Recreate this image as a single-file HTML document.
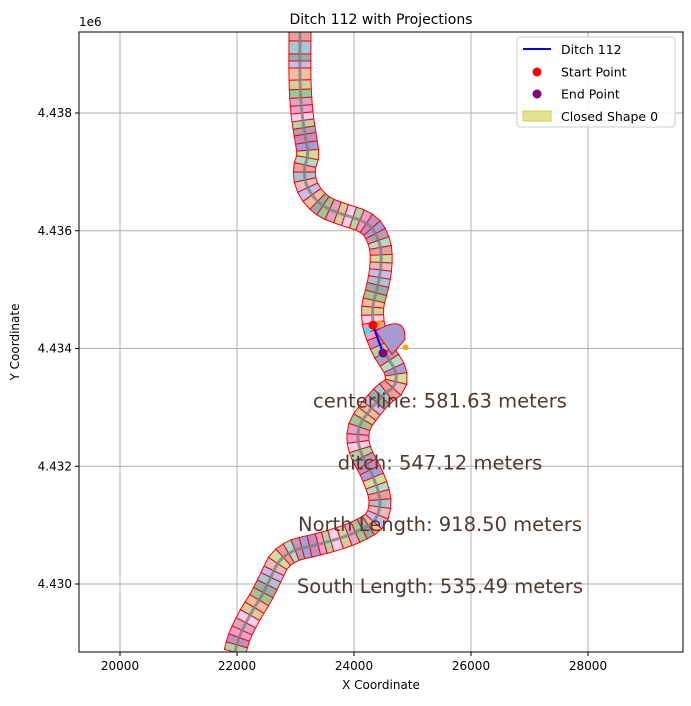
<!DOCTYPE html>
<html><head><meta charset="utf-8"><style>
body{margin:0;background:#fff;font-family:"Liberation Sans","DejaVu Sans",sans-serif}
svg text{font-family:"DejaVu Sans","Liberation Sans",sans-serif}
</style></head><body>
<svg id="c" width="691" height="701" xmlns="http://www.w3.org/2000/svg"></svg>
<script>
const centerX=[23077,23077,23111,23179,23213,23162,23162,23281,23503,23845,24102,24307,24444,24461,24409,24324,24324,24358,24495,24700,24700,24495,24273,24102,24067,24136,24273,24409,24444,24358,24102,23760,23333,22991,22734,22597,22427,22222,22051,21965];
const centerY=[4439376,4438561,4438000,4437541,4437286,4437117,4436862,4436607,4436403,4436267,4436182,4436046,4435757,4435418,4435078,4434738,4434483,4434313,4433973,4433634,4433379,4433209,4432954,4432699,4432444,4432189,4431935,4431595,4431340,4431085,4430915,4430779,4430660,4430575,4430405,4430151,4429811,4429471,4429131,4428842];
const ditchX=[24324,24495];const ditchY=[4434398,4433922];
const xTicks=[20000,22000,24000,26000,28000];
const yTicks=[4430000,4432000,4434000,4436000,4438000];
const yTickLabels=["4.430","4.432","4.434","4.436","4.438"];
const annotations=["centerline: 581.63 meters","ditch: 547.12 meters","North Length: 918.50 meters","South Length: 535.49 meters"];
const annotY=[4433100,4432050,4431000,4429950];
const L=79,R=683,T=32,B=652;
const X=v=>120+(v-20000)*0.0585, Y=v=>113+(4438000-v)*0.058875;
const svg=document.getElementById('c');const NS='http://www.w3.org/2000/svg';
function el(t,a,p){const e=document.createElementNS(NS,t);for(const k in a)e.setAttribute(k,a[k]);(p||svg).appendChild(e);return e;}
function tx(s,a,p){const e=el('text',a,p);e.textContent=s;return e;}
const defs=el('defs',{});const cp=el('clipPath',{id:'clip'},defs);el('rect',{x:L,y:T,width:R-L,height:B-T},cp);
xTicks.forEach((v,i)=>{const g=el('line',{x1:X(v),x2:X(v),y1:T,y2:B,stroke:'#b0b0b0','stroke-width':1});

el('line',{x1:X(v),x2:X(v),y1:B,y2:B+4,stroke:'#000'});
const t=tx(String(v),{x:X(v),y:B+18,'font-size':12,'text-anchor':'middle'});
});
yTicks.forEach((v,i)=>{const g=el('line',{x1:L,x2:R,y1:Y(v),y2:Y(v),stroke:'#b0b0b0','stroke-width':1});

el('line',{x1:L-4,x2:L,y1:Y(v),y2:Y(v),stroke:'#000'});
const t=tx(yTickLabels[i],{x:L-7,y:Y(v)+4,'font-size':12,'text-anchor':'end'});
});
const g=el('g',{'clip-path':'url(#clip)'});
const P=centerX.map((x,i)=>[X(x),Y(centerY[i])]);
let pts=[];
for(let i=0;i<P.length-1;i++){const p0=P[Math.max(i-1,0)],p1=P[i],p2=P[i+1],p3=P[Math.min(i+2,P.length-1)];
for(let s=0;s<8;s++){const t=s/8,t2=t*t,t3=t2*t;
const f=(a,b,c,d)=>0.5*(2*b+(-a+c)*t+(2*a-5*b+4*c-d)*t2+(-a+3*b-3*c+d)*t3);
pts.push([f(p0[0],p1[0],p2[0],p3[0]),f(p0[1],p1[1],p2[1],p3[1])]);}}
pts.push(P[P.length-1]);
let res=[pts[0]];for(let i=1;i<pts.length;i++){const d=Math.hypot(pts[i][0]-res[res.length-1][0],pts[i][1]-res[res.length-1][1]);if(d>=6.5)res.push(pts[i]);}
const pal=['#e8a0a0','#a0a0e0','#a8d8a8','#d8a8c8','#f0c0a0','#a0c8d8','#c8e0a0','#b0a0b8','#f0a0d0','#d0d0a0','#90b0b0','#e0c0c0','#a8e0d0','#c090c0','#f8d0f0','#98c898','#c0c0f0'];
const H=11;
function nrm(i){const a=res[Math.max(i-1,0)],b=res[Math.min(i+1,res.length-1)];const dx=b[0]-a[0],dy=b[1]-a[1],l=Math.hypot(dx,dy)||1;return[-dy/l,dx/l];}
for(let i=0;i<res.length-1;i++){const n1=nrm(i),n2=nrm(i+1),a=res[i],b=res[i+1];
const q=[[a[0]+n1[0]*H,a[1]+n1[1]*H],[b[0]+n2[0]*H,b[1]+n2[1]*H],[b[0]-n2[0]*H,b[1]-n2[1]*H],[a[0]-n1[0]*H,a[1]-n1[1]*H]];
const s=el('polygon',{points:q.map(p=>p.join(',')).join(' '),fill:pal[(i*5+Math.floor(i/3))%pal.length],stroke:'#ff0000','stroke-width':1},g);
}
el('polyline',{points:res.map(p=>p.join(',')).join(' '),fill:'none',stroke:'#808080','stroke-width':3,'stroke-opacity':0.8},g);
const bl=el('path',{d:`M${X(24370)},${Y(4434300)} Q${X(24900)},${Y(4434600)} ${X(24870)},${Y(4434150)} L${X(24650)},${Y(4433900)} Z`,fill:'#a898d0',stroke:'#ff0000','stroke-width':1},g);

const dl=el('line',{x1:X(ditchX[0]),y1:Y(ditchY[0]),x2:X(ditchX[1]),y2:Y(ditchY[1]),stroke:'#0000ff','stroke-width':2});

[[24230,4434300,'#00ffff'],[24470,4433880,'#00ffff'],[24430,4434430,'orange'],[24880,4434020,'orange']].forEach(d=>{const c=el('circle',{cx:X(d[0]),cy:Y(d[1]),r:3,fill:d[2]});});
const sp=el('circle',{cx:X(ditchX[0]),cy:Y(ditchY[0]),r:4.5,fill:'red'});
const ep=el('circle',{cx:X(ditchX[1]),cy:Y(ditchY[1]),r:4.5,fill:'purple'});
annotations.forEach((s,i)=>{const t=tx(s,{x:440,y:Y(annotY[i])+6,'font-size':19.5,'text-anchor':'middle',fill:'#4e3b30'});
});
el('rect',{x:L,y:T,width:R-L,height:B-T,fill:'none',stroke:'#000'});
let t=tx('Ditch 112 with Projections',{x:381,y:24,'font-size':14,'text-anchor':'middle'});
t=tx('X Coordinate',{x:381,y:689,'font-size':12,'text-anchor':'middle'});
t=tx('Y Coordinate',{x:0,y:0,'font-size':12,'text-anchor':'middle',transform:'translate(19,342) rotate(-90)'});
t=tx('1e6',{x:79,y:26,'font-size':12});
const lg=el('g',{});
el('rect',{x:517,y:37,width:158,height:90,rx:3,fill:'#fff','fill-opacity':0.85,stroke:'#ccc'},lg);
el('line',{x1:523,x2:551,y1:49,y2:49,stroke:'#0000ff','stroke-width':2},lg);
el('circle',{cx:537,cy:72,r:4.5,fill:'red'},lg);el('circle',{cx:537,cy:94,r:4.5,fill:'purple'},lg);
el('rect',{x:523,y:111,width:28,height:10,fill:'#d4d24a','fill-opacity':0.6,stroke:'#d4d24a'},lg);
['Ditch 112','Start Point','End Point','Closed Shape 0'].forEach((s,i)=>{const e=tx(s,{x:561,y:54+i*22.3,'font-size':12.5},lg);});
</script>
</body></html>
